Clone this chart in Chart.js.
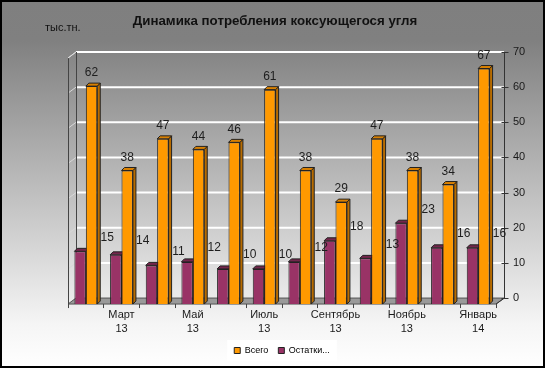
<!DOCTYPE html>
<html>
<head>
<meta charset="utf-8">
<script src="https://cdn.jsdelivr.net/npm/chart.js@4.4.0/dist/chart.umd.min.js"></script>
<style>
  html, body { margin: 0; padding: 0; background: #fff; }
  #wrap { width: 545px; height: 368px; }
</style>
</head>
<body>
<div id="wrap"><canvas id="coal" width="545" height="368"></canvas></div>
<script>
// ---------------- data ----------------
var months = [['Февраль', '13'], ['Март', '13'], ['Апрель', '13'], ['Май', '13'], ['Июнь', '13'], ['Июль', '13'],
              ['Август', '13'], ['Сентябрь', '13'], ['Октябрь', '13'], ['Ноябрь', '13'], ['Декабрь', '13'], ['Январь', '14']];
var totalValues = [62, 38, 47, 44, 46, 61, 38, 29, 47, 38, 34, 67];
var stockValues = [15, 14, 11, 12, 10, 10, 12, 18, 13, 23, 16, 16];
var yTicks = [0, 10, 20, 30, 40, 50, 60, 70];

var chartTitle = 'Динамика потребления коксующегося угля';
var unitText = 'тыс.тн.';

// ---------------- look ----------------
var orange = { front: '#ff9900', side: '#b86c00', top: '#d98000' };
var purple = { front: '#993366', side: '#662244', top: '#74264c' };
var wallDx = 8, wallDy = -6;   // back wall offset
var barDx = 3, barDy = -3;     // bar depth
var fontName = 'Arial, "Liberation Sans", sans-serif';

function poly(ctx, pts, fill, stroke) {
    ctx.beginPath();
    ctx.moveTo(pts[0][0], pts[0][1]);
    for (var i = 1; i < pts.length; i++) ctx.lineTo(pts[i][0], pts[i][1]);
    ctx.closePath();
    if (fill) { ctx.fillStyle = fill; ctx.fill(); }
    if (stroke) { ctx.strokeStyle = stroke; ctx.lineWidth = 1; ctx.stroke(); }
}

var depthPlugin = {
    id: 'depth',
    beforeDraw: function (chart) {
        var ctx = chart.ctx;
        var area = chart.chartArea;
        var y = chart.scales.y;
        ctx.save();

        // background
        var g = ctx.createLinearGradient(0, 0, 0, chart.height);
        g.addColorStop(0, '#7f7f7f');
        g.addColorStop(0.11, '#808080');
        g.addColorStop(0.88, '#f5f5f5');
        g.addColorStop(1, '#ffffff');
        ctx.fillStyle = g;
        ctx.fillRect(0, 0, chart.width, chart.height);

        // white box behind legend
        var boxes = chart.legend.legendHitBoxes;
        if (boxes && boxes.length) {
            var last = boxes[boxes.length - 1];
            ctx.fillStyle = '#ffffff';
            ctx.fillRect(boxes[0].left - 7, boxes[0].top - 6, last.left + last.width - boxes[0].left + 14, boxes[0].height + 12);
        }

        // title and unit
        ctx.fillStyle = '#111';
        ctx.textBaseline = 'middle';
        ctx.textAlign = 'center';
        ctx.font = 'bold 13.3px ' + fontName;
        ctx.fillText(chartTitle, 275, 21);
        ctx.textAlign = 'left';
        ctx.font = '11px ' + fontName;
        ctx.fillText(unitText, 45, 28);

        var y0 = y.getPixelForValue(0);
        var yTop = y.getPixelForValue(yTicks[yTicks.length - 1]);

        // floor
        poly(ctx, [[area.left, y0], [area.right, y0], [area.right + wallDx, y0 + wallDy], [area.left + wallDx, y0 + wallDy]], '#9a9a9a', '#555');

        // grid on the back wall + left wall slants
        yTicks.forEach(function (v) {
            if (v === 0) return;
            var py = y.getPixelForValue(v);
            ctx.strokeStyle = '#ffffff';
            ctx.lineWidth = 2;
            ctx.beginPath();
            ctx.moveTo(area.left + wallDx, py + wallDy);
            ctx.lineTo(area.right + wallDx, py + wallDy);
            ctx.stroke();
            ctx.strokeStyle = '#d8d8d8';
            ctx.lineWidth = 1;
            ctx.beginPath();
            ctx.moveTo(area.left, py);
            ctx.lineTo(area.left + wallDx, py + wallDy);
            ctx.stroke();
        });

        // left wall edges
        ctx.strokeStyle = '#444';
        ctx.lineWidth = 1;
        ctx.beginPath();
        ctx.moveTo(area.left + 0.5, yTop);
        ctx.lineTo(area.left + 0.5, y0);
        ctx.moveTo(area.left + wallDx + 0.5, yTop + wallDy);
        ctx.lineTo(area.left + wallDx + 0.5, y0 + wallDy);
        ctx.stroke();
        ctx.strokeStyle = '#dcdcdc';
        ctx.beginPath();
        ctx.moveTo(area.left, yTop);
        ctx.lineTo(area.left + wallDx, yTop + wallDy);
        ctx.stroke();

        // right axis line with ticks
        var ax = area.right + wallDx + 0.5;
        ctx.strokeStyle = '#333';
        ctx.beginPath();
        ctx.moveTo(ax, yTop + wallDy);
        ctx.lineTo(ax, y0 + wallDy);
        ctx.lineTo(area.right, y0);
        yTicks.forEach(function (v) {
            var py = Math.round(y.getPixelForValue(v) + wallDy) + 0.5;
            ctx.moveTo(ax - 3, py);
            ctx.lineTo(ax + 4, py);
        });
        ctx.stroke();
        ctx.restore();
    },
    beforeDatasetsDraw: function (chart) {
        var ctx = chart.ctx;
        ctx.save();
        chart.data.datasets.forEach(function (ds, di) {
            var c = di === 0 ? purple : orange;
            chart.getDatasetMeta(di).data.forEach(function (el) {
                var l = el.x - el.width / 2, r = el.x + el.width / 2;
                var t = el.y, b = el.base;
                poly(ctx, [[r, t], [r + barDx, t + barDy], [r + barDx, b + barDy], [r, b]], c.side, '#222');
                poly(ctx, [[l, t], [l + barDx, t + barDy], [r + barDx, t + barDy], [r, t]], c.top, '#222');
            });
        });
        ctx.restore();
    },
    afterDatasetsDraw: function (chart) {
        var ctx = chart.ctx;
        ctx.save();
        ctx.fillStyle = '#1e1e1e';
        ctx.font = '12px ' + fontName;
        ctx.textAlign = 'center';
        ctx.textBaseline = 'middle';
        chart.data.datasets.forEach(function (ds, di) {
            chart.getDatasetMeta(di).data.forEach(function (el, i) {
                if (di === 0) {
                    ctx.fillText(ds.data[i], el.x + 27, el.y - 14);
                } else {
                    ctx.fillText(ds.data[i], el.x, el.y - 13);
                }
            });
        });
        ctx.restore();
    },
    afterDraw: function (chart) {
        var ctx = chart.ctx;
        ctx.save();
        ctx.strokeStyle = '#000';
        ctx.lineWidth = 2;
        ctx.strokeRect(1, 1, chart.width - 2, chart.height - 2);
        ctx.restore();
    }
};

// ---------------- chart ----------------
var coalData = {
    labels: months,
    datasets: [{
        label: 'Остатки...',
        data: stockValues,
        backgroundColor: purple.front,
        borderColor: '#222',
        borderWidth: 1,
        categoryPercentage: 0.64,
        barPercentage: 1.0
    }, {
        label: 'Всего',
        data: totalValues,
        backgroundColor: orange.front,
        borderColor: '#222',
        borderWidth: 1,
        categoryPercentage: 0.64,
        barPercentage: 1.0
    }]
};

var coalOptions = {
    responsive: false,
    animation: false,
    layout: { padding: { left: 68, right: 0, top: 58, bottom: 3 } },
    plugins: {
        title: { display: false },
        legend: {
            display: true,
            position: 'bottom',
            fullSize: false,
            reverse: true,
            labels: {
                boxWidth: 6,
                boxHeight: 6,
                padding: 10,
                color: '#000',
                font: { family: fontName, size: 9 }
            }
        },
        tooltip: { enabled: false }
    },
    scales: {
        x: {
            grid: { display: true, drawOnChartArea: false, drawTicks: true, tickLength: 4, color: '#444', offset: true },
            border: { display: false },
            ticks: {
                autoSkip: false,
                maxRotation: 0,
                padding: 0,
                color: '#1a1a1a',
                font: { family: fontName, size: 11, lineHeight: 1.27 },
                callback: function (value, index) {
                    return index % 2 === 1 ? this.getLabelForValue(value) : '';
                }
            }
        },
        y: {
            position: 'right',
            min: 0,
            max: 70,
            grid: { display: false, drawTicks: false },
            border: { display: false },
            afterFit: function (scale) { scale.width = 49; },
            ticks: {
                stepSize: 10,
                padding: 17,
                labelOffset: wallDy,
                color: '#1a1a1a',
                font: { family: fontName, size: 11 }
            }
        }
    }
};

var coalChart = new Chart(document.getElementById('coal').getContext('2d'), {
    type: 'bar',
    data: coalData,
    options: coalOptions,
    plugins: [depthPlugin]
});
</script>
</body>
</html>
